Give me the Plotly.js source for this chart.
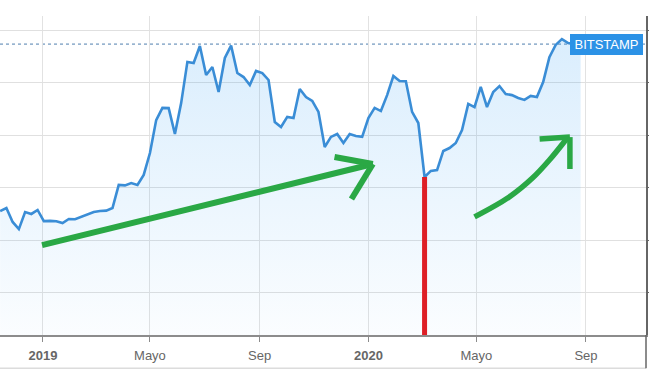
<!DOCTYPE html>
<html>
<head>
<meta charset="utf-8">
<script src="https://cdn.plot.ly/plotly-3.0.1.min.js"></script>
<style>html,body{margin:0;padding:0;background:#fff;}#chart{width:649px;height:373px;}</style>
</head>
<body>
<div id="chart"></div>
<script>
// Weekly BTC/USD (Bitstamp) closes
const dates = [
"2018-11-14","2018-11-21","2018-11-28","2018-12-05","2018-12-12","2018-12-19","2018-12-26",
"2019-01-02","2019-01-09","2019-01-16","2019-01-23","2019-01-30",
"2019-02-06","2019-02-13","2019-02-20","2019-02-27",
"2019-03-06","2019-03-13","2019-03-20","2019-03-27",
"2019-04-03","2019-04-10","2019-04-17","2019-04-24",
"2019-05-01","2019-05-08","2019-05-15","2019-05-22","2019-05-29",
"2019-06-05","2019-06-12","2019-06-19","2019-06-26",
"2019-07-03","2019-07-10","2019-07-17","2019-07-24","2019-07-31",
"2019-08-07","2019-08-14","2019-08-21","2019-08-28",
"2019-09-04","2019-09-11","2019-09-18","2019-09-25",
"2019-10-02","2019-10-09","2019-10-16","2019-10-23","2019-10-30",
"2019-11-06","2019-11-13","2019-11-20","2019-11-27",
"2019-12-04","2019-12-11","2019-12-18","2019-12-25",
"2020-01-01","2020-01-08","2020-01-15","2020-01-22","2020-01-29",
"2020-02-05","2020-02-12","2020-02-19","2020-02-26",
"2020-03-04","2020-03-11","2020-03-18","2020-03-25",
"2020-04-01","2020-04-08","2020-04-15","2020-04-22","2020-04-29",
"2020-05-06","2020-05-13","2020-05-20","2020-05-27",
"2020-06-03","2020-06-10","2020-06-17","2020-06-24",
"2020-07-01","2020-07-08","2020-07-15","2020-07-22","2020-07-29",
"2020-08-05","2020-08-12","2020-08-19","2020-08-26"
];
const prices = [
3880,4020,3360,3020,3830,3740,3930,
3400,3410,3390,3310,3500,
3490,3600,3690,3830,
3880,3900,4020,5120,
5100,5210,5120,5600,
6640,8210,8790,8780,7550,
9020,10980,10930,11740,
10360,10740,9550,11170,11760,
10450,10260,9880,10550,
10450,10120,8120,7880,
8360,8310,9690,9310,9120,
8600,6930,7410,7550,
7120,7550,7450,7410,
8310,8790,8640,9400,10310,
10070,10060,8600,8070,
5500,5790,5830,6740,
6880,7120,7740,8980,8830,
9790,8830,9550,9830,
9450,9400,9260,9170,
9360,9310,10020,11210,11790,
12070,11880,11830,11830
];
const tickDates = ["2019-01-01","2019-05-01","2019-09-01","2020-01-01","2020-05-01","2020-09-01"];
const tickLabels = ["<b>2019</b>","Mayo","Sep","<b>2020</b>","Mayo","Sep"];
const exchangeLabel = "BITSTAMP";

// Hand-drawn annotation strokes (data coordinates)
const arrow1Shaft = {x: ["2018-12-31","2020-01-06"], y: [2260, 6120]};
const arrow1Upper = {x: ["2019-11-24","2020-01-06"], y: [6450, 6120]};
const arrow1Lower = {x: ["2020-01-06","2019-12-13"], y: [6120, 4450]};
const arrow2Curve = {x: ["2020-04-29","2020-06-07","2020-07-03","2020-07-22","2020-08-11"], y: [3600,4550,5450,6310,7360]};
const arrow2Top = {x: ["2020-07-11","2020-08-14"], y: [7310, 7400]};
const arrow2Side = {x: ["2020-08-14","2020-08-14"], y: [7400, 5880]};
const crashDate = "2020-03-04";

const X_RANGE = ["2018-11-13 20:00", "2020-11-07 08:00"];
const Y_RANGE = [-2024, 13167];

const lastPrice = prices[prices.length - 1];
const lowIdx = prices.indexOf(Math.min(...prices.slice(50)));

const green = "#2aa845";
const stroke = (a, w) => ({type: "scatter", mode: "lines", x: a.x, y: a.y,
  line: {color: green, width: w}, hoverinfo: "skip", showlegend: false});

const traces = [
  {type: "scatter", mode: "lines", x: dates, y: dates.map(() => Y_RANGE[0]),
   line: {width: 0}, hoverinfo: "skip", showlegend: false},
  {type: "scatter", mode: "lines", x: dates, y: prices, fill: "tonexty",
   fillgradient: {type: "vertical", start: Y_RANGE[0], stop: 12500,
     colorscale: [[0, "rgba(33,150,243,0.02)"], [1, "rgba(33,150,243,0.17)"]]},
   line: {color: "#3a8dd6", width: 2.6}, hoverinfo: "skip", showlegend: false},
  stroke(arrow1Shaft, 6), stroke(arrow1Upper, 6), stroke(arrow1Lower, 6),
  Object.assign(stroke(arrow2Curve, 5.5), {line: {color: green, width: 5.5, shape: "spline"}}),
  stroke(arrow2Top, 5.5), stroke(arrow2Side, 5.5)
];

const layout = {
  width: 649, height: 373,
  margin: {l: 0, r: 3, t: 16, b: 38},
  paper_bgcolor: "#fff", plot_bgcolor: "#fff",
  showlegend: false,
  font: {family: "Liberation Sans, Arial, sans-serif", size: 13, color: "#555"},
  xaxis: {type: "date", range: X_RANGE, tickvals: tickDates, ticktext: tickLabels,
    showgrid: true, gridcolor: "#e2e2e2", gridwidth: 1,
    showline: true, linecolor: "#8c8c8c", linewidth: 1.5,
    ticks: "outside", ticklen: 5, tickcolor: "#8c8c8c", ticklabelstandoff: 3,
    tickfont: {size: 13, color: "#666"}, zeroline: false, fixedrange: true},
  yaxis: {range: Y_RANGE, tick0: 0, dtick: 2500, side: "right",
    showgrid: true, gridcolor: "#e0e0e0", gridwidth: 1,
    showline: true, linecolor: "#666", linewidth: 1.5,
    ticks: "outside", ticklen: 3, tickcolor: "#666",
    showticklabels: false, zeroline: false, fixedrange: true},
  shapes: [
    {type: "line", xref: "paper", x0: 0, x1: 1, yref: "y", y0: lastPrice, y1: lastPrice,
     line: {color: "#4f7fae", width: 1, dash: "dot"}, layer: "below"},
    {type: "line", xref: "x", x0: crashDate, x1: crashDate, yref: "y",
     y0: prices[lowIdx], y1: Y_RANGE[0] - 60,
     line: {color: "#de1f26", width: 5}},
    {type: "line", xref: "paper", x0: 0, x1: 1, yref: "paper", y0: -0.104, y1: -0.104,
     line: {color: "#dcdcdc", width: 1.5}},
    {type: "line", xref: "paper", x0: 1, x1: 1, yref: "paper", y0: 0, y1: -0.104,
     line: {color: "#666", width: 1.5}}
  ],
  annotations: [
    {xref: "paper", x: 1, xanchor: "right", xshift: -3, yref: "y", y: lastPrice, yanchor: "middle",
     text: exchangeLabel, showarrow: false, bgcolor: "#2c92e6", borderpad: 2, borderwidth: 0,
     width: 69, height: 17, font: {color: "#fff", size: 13, family: "Liberation Sans, Arial, sans-serif"}}
  ]
};

Plotly.newPlot("chart", traces, layout, {displayModeBar: false, staticPlot: true});
</script>
</body>
</html>
